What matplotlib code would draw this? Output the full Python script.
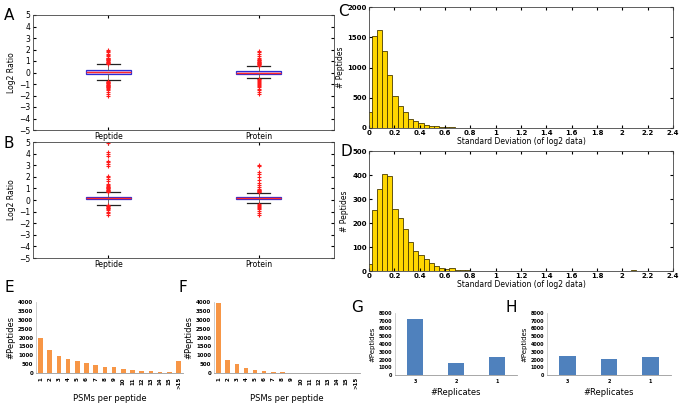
import matplotlib.pyplot as plt
import numpy as np

W, H = 685, 403

# ---------------- datos ----------------
box_labels = ['Peptide', 'Protein']

# A: (q1, mediana, q3, bigote inf, bigote sup)
a_pep_stats = [-0.1, 0.02, 0.2, -0.65, 0.7]
a_pro_stats = [-0.1, 0.0, 0.15, -0.5, 0.55]
a_pep_fliers = [0.75, 0.8, 0.85, 0.9, 0.95, 1.0, 1.05, 1.1, 1.15, 1.2, 1.25, 1.3,
                1.4, 1.5, 1.6, 1.75, 1.9, 2.0,
                -0.75, -0.8, -0.85, -0.9, -0.95, -1.0, -1.05, -1.1, -1.15, -1.2,
                -1.25, -1.3, -1.35, -1.45, -1.55, -1.7, -1.85, -2.0]
a_pro_fliers = [0.6, 0.65, 0.7, 0.75, 0.8, 0.85, 0.9, 0.95, 1.0, 1.05, 1.1, 1.2,
                1.3, 1.45, 1.6, 1.75, 1.9,
                -0.55, -0.6, -0.65, -0.7, -0.8, -0.9, -1.0, -1.1, -1.2, -1.3,
                -1.4, -1.55, -1.7, -1.9]

# B
b_pep_stats = [0.05, 0.17, 0.3, -0.4, 0.65]
b_pro_stats = [0.05, 0.17, 0.3, -0.3, 0.6]
b_pep_fliers = [0.7, 0.75, 0.8, 0.85, 0.9, 0.95, 1.0, 1.05, 1.1, 1.15, 1.2, 1.3,
                1.4, 1.6, 1.8, 2.0, 2.1, 2.9, 3.1, 3.3, 3.4, 3.8, 3.95, 4.1, 4.9,
                -0.45, -0.5, -0.55, -0.6, -0.65, -0.7, -0.8, -0.9, -1.0, -1.15, -1.3]
b_pro_fliers = [0.65, 0.7, 0.75, 0.8, 0.85, 0.9, 0.95, 1.1, 1.3, 1.5, 1.7, 2.0,
                2.2, 2.4, 2.95, 3.05,
                -0.35, -0.4, -0.5, -0.6, -0.7, -0.8, -0.95, -1.1, -1.3]

# C y D: histogramas de desviación estándar
bin_width = 0.041
c_counts = [265, 1520, 1620, 1280, 870, 525, 360, 260, 150, 115, 75, 50, 35, 28,
            17, 12, 9, 7, 5, 4, 3, 3, 2, 2, 1, 1, 2, 1, 1, 0, 1, 1, 0, 0, 1, 0,
            0, 0, 1, 0, 0, 0, 0, 1, 0, 0, 0, 0, 0, 0, 0, 0, 0, 0, 0, 0, 0, 0, 0]
d_counts = [30, 255, 340, 405, 395, 258, 220, 175, 122, 83, 65, 48, 32, 21, 14,
            8, 12, 5, 4, 3, 2, 1, 1, 2, 1, 0, 1, 0, 1, 1, 0, 1, 0, 0, 0, 0, 1,
            0, 0, 0, 0, 0, 0, 0, 0, 0, 0, 0, 0, 0, 0, 4, 0, 0, 0, 0, 0, 0, 0]

# E y F: PSMs por péptido
psm_labels = [str(i) for i in range(1, 16)] + ['>15']
e_counts = [1970, 1270, 980, 770, 700, 550, 470, 360, 310, 230, 180, 140, 90, 70, 60, 700]
f_counts = [3940, 760, 500, 260, 190, 110, 80, 40, 20, 15, 8, 5, 4, 3, 2, 10]

# G y H: réplicas
rep_labels = ['3', '2', '1']
g_counts = [7250, 1600, 2350]
h_counts = [2480, 2010, 2350]


def px_axes(l, t, r, b):
    return fig.add_axes([l / W, 1 - b / H, (r - l) / W, (b - t) / H])


fig = plt.figure(figsize=(W / 100, H / 100), dpi=100)
fig.patch.set_facecolor('white')


# ---------- A y B: diagramas de caja ----------
def boxpanel(ax, stats_list, fliers_list):
    stats = []
    for st, fl in zip(stats_list, fliers_list):
        q1, med, q3, lo, hi = st
        stats.append(dict(q1=q1, med=med, q3=q3, whislo=lo, whishi=hi, fliers=fl))
    ax.bxp(stats, positions=[1, 2], widths=0.3, patch_artist=True,
           boxprops=dict(facecolor='#d9c3f2', edgecolor='#2b2bd6', linewidth=0.9),
           medianprops=dict(color='#ff2a2a', linewidth=1.0),
           whiskerprops=dict(color='#555555', linewidth=0.6),
           capprops=dict(color='#222222', linewidth=0.9),
           capwidths=0.15,
           flierprops=dict(marker='+', markeredgecolor='#ff1a1a', markersize=3,
                           markeredgewidth=0.8))
    ax.set_xlim(0.5, 2.5)
    ax.set_ylim(-5, 5)
    ax.set_yticks(range(-5, 6))
    ax.set_xticks([1, 2])
    ax.set_xticklabels(box_labels, fontsize=5.5)
    ax.tick_params(axis='y', labelsize=5.5, direction='in', right=True, length=2.5, pad=2)
    ax.tick_params(axis='x', direction='in', top=True, length=2.5, pad=1.5)
    ax.set_ylabel('Log2 Ratio', fontsize=5.5, labelpad=2)
    for s in ax.spines.values():
        s.set_linewidth(0.6)
        s.set_color('#444444')


axA = px_axes(33, 15, 334, 130)
boxpanel(axA, [a_pep_stats, a_pro_stats], [a_pep_fliers, a_pro_fliers])
axB = px_axes(33, 142, 334, 258)
boxpanel(axB, [b_pep_stats, b_pro_stats], [b_pep_fliers, b_pro_fliers])


# ---------- C y D: histogramas ----------
def histpanel(ax, counts, ymax, ystep):
    centers = np.arange(len(counts)) * bin_width
    ax.bar(centers, counts, width=bin_width, color='#ffd700', edgecolor='#4a3c00',
           linewidth=0.6)
    ax.set_xlim(0, 2.4)
    ax.set_ylim(0, ymax)
    ax.set_xticks(np.round(np.arange(0, 2.41, 0.2), 1))
    ax.set_xticklabels(['0', '0.2', '0.4', '0.6', '0.8', '1', '1.2', '1.4', '1.6',
                        '1.8', '2', '2.2', '2.4'])
    ax.set_yticks(np.arange(0, ymax + 1, ystep))
    ax.tick_params(labelsize=5, direction='in', top=True, right=True, length=2.5, pad=1.5)
    for lab in ax.get_xticklabels() + ax.get_yticklabels():
        lab.set_fontweight('bold')
    ax.set_ylabel('# Peptides', fontsize=5.5, labelpad=2)
    ax.set_xlabel('Standard Deviation (of log2 data)', fontsize=5.5, labelpad=1)
    for s in ax.spines.values():
        s.set_linewidth(0.6)
        s.set_color('#444444')


axC = px_axes(369, 7, 673, 128)
histpanel(axC, c_counts, 2000, 500)
axD = px_axes(369, 151, 673, 271)
histpanel(axD, d_counts, 500, 100)


# ---------- E, F, G, H: barras estilo Excel ----------
def excelpanel(ax, labels, counts, color, ymax, ystep, xlabel, width, rot, tsize):
    x = np.arange(len(labels))
    ax.bar(x, counts, width=width, color=color)
    ax.set_xlim(-0.5, len(labels) - 0.5)
    ax.set_ylim(0, ymax)
    ax.set_yticks(np.arange(0, ymax + 1, ystep))
    ax.set_xticks(x)
    ax.set_xticklabels(labels, rotation=rot, fontsize=tsize, fontweight='bold')
    ax.tick_params(axis='y', labelsize=tsize, length=0, pad=2)
    ax.tick_params(axis='x', length=0, pad=3)
    for lab in ax.get_yticklabels():
        lab.set_fontweight('bold')
    ax.set_ylabel('#Peptides', fontsize=6, labelpad=2)
    ax.set_xlabel(xlabel, fontsize=6, labelpad=3)
    ax.spines['top'].set_visible(False)
    ax.spines['right'].set_visible(False)
    ax.spines['left'].set_color('#bbbbbb')
    ax.spines['bottom'].set_color('#999999')
    ax.spines['left'].set_linewidth(0.5)
    ax.spines['bottom'].set_linewidth(0.6)


axE = px_axes(36, 302, 183, 373)
excelpanel(axE, psm_labels, e_counts, '#f79646', 4000, 500, 'PSMs per peptide', 0.5, 90, 4)
axF = px_axes(214, 302, 360, 373)
excelpanel(axF, psm_labels, f_counts, '#f79646', 4000, 500, 'PSMs per peptide', 0.5, 90, 4)
axG = px_axes(395, 313, 517, 375)
excelpanel(axG, rep_labels, g_counts, '#4f81bd', 8000, 1000, '#Replicates', 0.4, 0, 3.5)
axH = px_axes(547, 313, 671, 375)
excelpanel(axH, rep_labels, h_counts, '#4f81bd', 8000, 1000, '#Replicates', 0.4, 0, 3.5)
for ax in (axG, axH):
    ax.yaxis.label.set_size(5)

# letras de panel
letras = [('A', 9, 15), ('B', 9, 143), ('C', 343, 11), ('D', 346, 152),
          ('E', 9, 288), ('F', 183, 288), ('G', 357, 307), ('H', 511, 307)]
for txt, x, y in letras:
    fig.text(x / W, 1 - y / H, txt, fontsize=11, ha='center', va='center')

plt.savefig('out.png', dpi=100, facecolor='white')
